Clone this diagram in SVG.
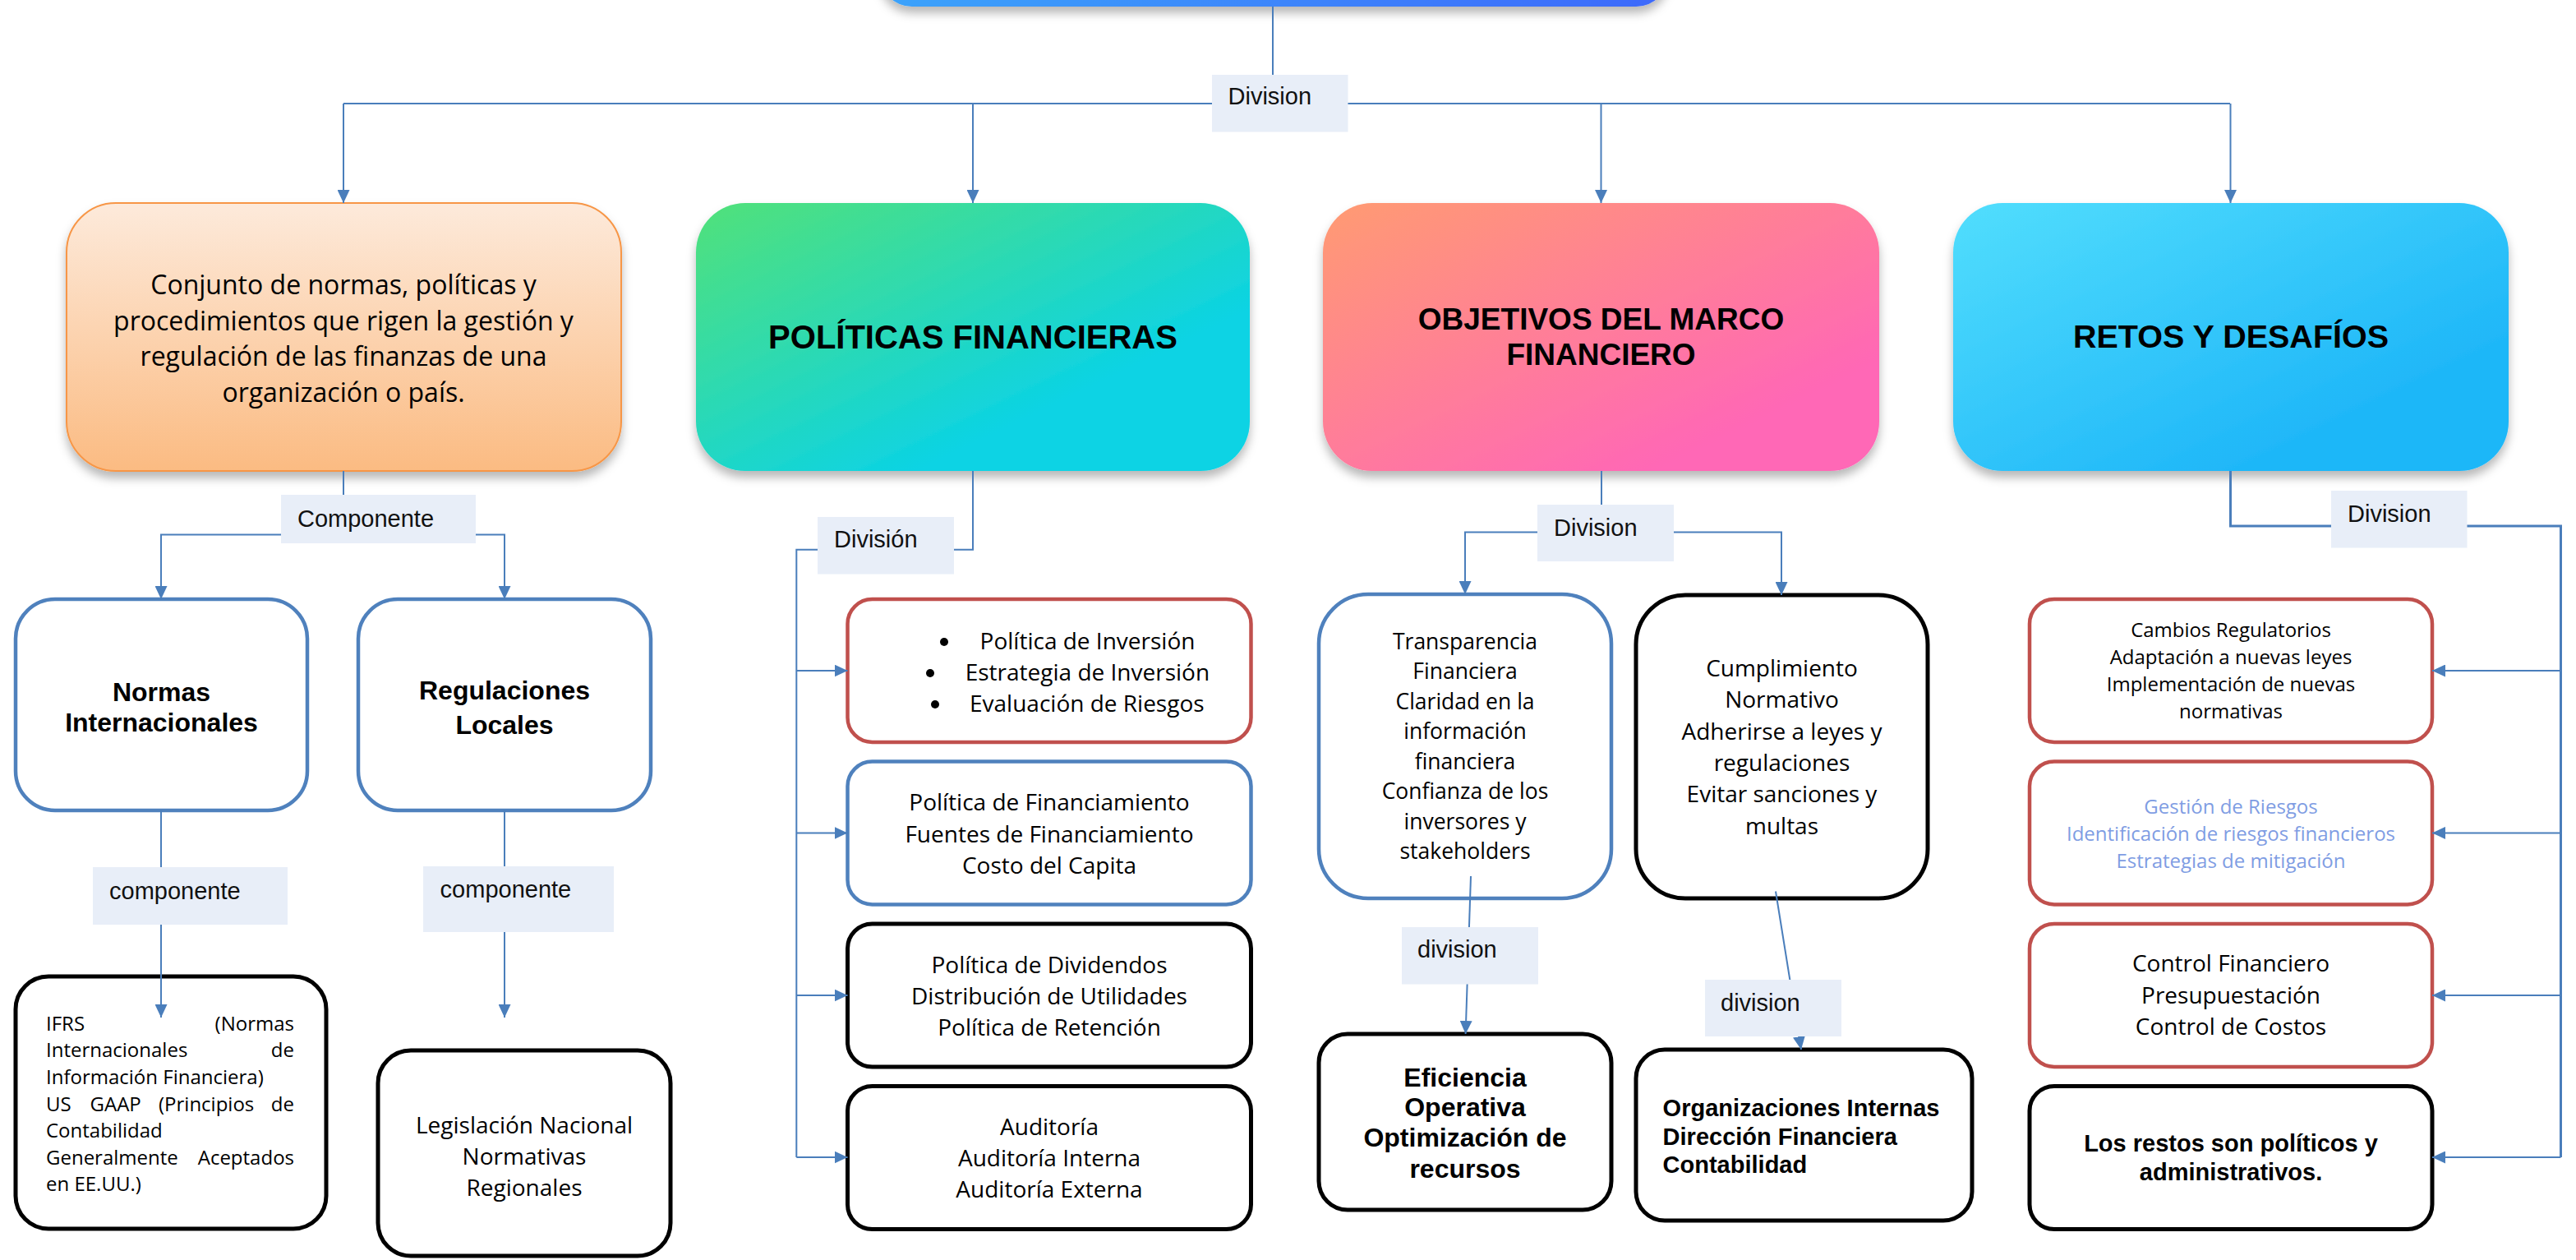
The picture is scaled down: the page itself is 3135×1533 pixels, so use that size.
<svg xmlns="http://www.w3.org/2000/svg" width="3135" height="1533" viewBox="0 0 3135 1533">
<defs>
  <linearGradient id="gRoot" x1="0" y1="0" x2="1" y2="0"><stop offset="0" stop-color="#3aa3fb"/><stop offset="1" stop-color="#3e69fb"/></linearGradient>
  <linearGradient id="gOrange" x1="0" y1="0" x2="0" y2="1"><stop offset="0" stop-color="#fdeadb"/><stop offset="1" stop-color="#fbbb82"/></linearGradient>
  <linearGradient id="gGreen" x1="0" y1="0" x2="1" y2="1"><stop offset="0" stop-color="#52e179"/><stop offset="0.7" stop-color="#0cd3e4"/></linearGradient>
  <linearGradient id="gPink" x1="0" y1="0" x2="1" y2="1"><stop offset="0" stop-color="#ff9b72"/><stop offset="0.8" stop-color="#ff67b6"/></linearGradient>
  <linearGradient id="gBlue" x1="0" y1="0" x2="1" y2="1"><stop offset="0" stop-color="#52defd"/><stop offset="0.75" stop-color="#1fb7f8"/></linearGradient>
  <filter id="shadow" x="-10%" y="-10%" width="120%" height="135%"><feDropShadow dx="0" dy="8" stdDeviation="6" flood-color="#000" flood-opacity="0.28"/></filter>
  <marker id="ah" markerWidth="16" markerHeight="15" refX="16" refY="7.5" orient="auto" markerUnits="userSpaceOnUse"><path d="M0,0 L16,7.5 L0,15 z" fill="#4a7ebb"/></marker>
  <style>
    .conn{stroke:#4a7ebb;stroke-width:2;fill:none}
    .thick{stroke-width:3}
    .lbl rect{fill:#e8eef8}
    .lbl text{font-family:"Liberation Sans",Arial,sans-serif;font-size:29px;fill:#111}
    .body{font-family:"Open Sans","Liberation Sans",sans-serif;fill:#000}
    .bold{font-family:"Liberation Sans",Arial,sans-serif;font-weight:bold;fill:#000}
    .c{text-anchor:middle}
    .bx{fill:#fff;stroke-width:4.5}
    .red{stroke:#c0504d}
    .blu{stroke:#4f81bd}
    .blk{stroke:#000;stroke-width:5}
  </style>
</defs>
<rect width="3135" height="1533" fill="#fff"/>

<g id="root"><rect x="1070" y="-120" width="961" height="128" rx="40" fill="url(#gRoot)" filter="url(#shadow)"/></g>

<g id="n-conjunto">
  <rect x="81" y="247" width="675" height="326" rx="60" fill="url(#gOrange)" stroke="#f79646" stroke-width="2" filter="url(#shadow)"/>
  <text class="body c" font-size="32" x="418"><tspan x="418" y="358">Conjunto de normas, políticas y</tspan><tspan x="418" y="401.5">procedimientos que rigen la gestión y</tspan><tspan x="418" y="445">regulación de las finanzas de una</tspan><tspan x="418" y="488.5">organización o país.</tspan></text>
</g>
<g id="n-politicas">
  <rect x="847" y="247" width="674" height="326" rx="60" fill="url(#gGreen)" filter="url(#shadow)"/>
  <text class="bold c" font-size="40" x="1184" y="424">POLÍTICAS FINANCIERAS</text>
</g>
<g id="n-objetivos">
  <rect x="1610" y="247" width="677" height="326" rx="60" fill="url(#gPink)" filter="url(#shadow)"/>
  <text class="bold c" font-size="37"><tspan x="1948.5" y="401">OBJETIVOS DEL MARCO</tspan><tspan x="1948.5" y="444">FINANCIERO</tspan></text>
</g>
<g id="n-retos">
  <rect x="2377" y="247" width="676" height="326" rx="60" fill="url(#gBlue)" filter="url(#shadow)"/>
  <text class="bold c" font-size="39.5" x="2715" y="423">RETOS Y DESAFÍOS</text>
</g>

<g id="n-normas">
  <rect class="bx blu" x="19" y="729" width="355" height="257" rx="48"/>
  <text class="bold c" font-size="32"><tspan x="196.5" y="853">Normas</tspan><tspan x="196.5" y="890">Internacionales</tspan></text>
</g>
<g id="n-regulaciones">
  <rect class="bx blu" x="436" y="729" width="356" height="257" rx="48"/>
  <text class="bold c" font-size="32"><tspan x="614" y="850.5">Regulaciones</tspan><tspan x="614" y="893">Locales</tspan></text>
</g>
<g id="n-ifrs">
  <rect class="bx blk" x="19" y="1188" width="378" height="307" rx="40"/>
  <g class="body" font-size="24">
    <text x="56" y="1253.5">IFRS</text><text x="358" y="1253.5" text-anchor="end">(Normas</text>
    <text x="56" y="1286">Internacionales</text><text x="358" y="1286" text-anchor="end">de</text>
    <text x="56" y="1318.5">Información Financiera)</text>
    <text x="56" y="1351.5">US</text><text x="109.5" y="1351.5">GAAP</text><text x="193" y="1351.5">(Principios</text><text x="358" y="1351.5" text-anchor="end">de</text>
    <text x="56" y="1384">Contabilidad</text>
    <text x="56" y="1417">Generalmente</text><text x="358" y="1417" text-anchor="end">Aceptados</text>
    <text x="56" y="1449">en EE.UU.)</text>
  </g>
</g>
<g id="n-legislacion">
  <rect class="bx blk" x="460" y="1278" width="356" height="250" rx="40"/>
  <text class="body c" font-size="28"><tspan x="638" y="1379">Legislación Nacional</tspan><tspan x="638" y="1417">Normativas</tspan><tspan x="638" y="1455">Regionales</tspan></text>
</g>

<g id="n-inversion">
  <rect class="bx red" x="1031.5" y="729" width="491" height="174" rx="30"/>
  <circle cx="1149" cy="781" r="5"/><circle cx="1132" cy="819" r="5"/><circle cx="1138" cy="857" r="5"/>
  <g class="body" font-size="28">
    <text x="1192.6" y="789.7">Política de Inversión</text>
    <text x="1174.7" y="828">Estrategia de Inversión</text>
    <text x="1180" y="865.7">Evaluación de Riesgos</text>
  </g>
</g>
<g id="n-financiamiento">
  <rect class="bx blu" x="1031.5" y="926.5" width="491" height="174" rx="30"/>
  <text class="body c" font-size="28"><tspan x="1277" y="985.7">Política de Financiamiento</tspan><tspan x="1277" y="1024.6">Fuentes de Financiamiento</tspan><tspan x="1277" y="1062.9">Costo del Capita</tspan></text>
</g>
<g id="n-dividendos">
  <rect class="bx blk" x="1031.5" y="1124" width="491" height="174" rx="30"/>
  <text class="body c" font-size="28"><tspan x="1277" y="1183.8">Política de Dividendos</tspan><tspan x="1277" y="1222">Distribución de Utilidades</tspan><tspan x="1277" y="1259.8">Política de Retención</tspan></text>
</g>
<g id="n-auditoria">
  <rect class="bx blk" x="1031.5" y="1321.5" width="491" height="174" rx="30"/>
  <text class="body c" font-size="28"><tspan x="1277" y="1381.4">Auditoría</tspan><tspan x="1277" y="1419">Auditoría Interna</tspan><tspan x="1277" y="1457.3">Auditoría Externa</tspan></text>
</g>

<g id="n-transparencia">
  <rect class="bx blu" x="1605" y="723" width="356" height="370" rx="60"/>
  <text class="body c" font-size="26.5"><tspan x="1783" y="789.7">Transparencia</tspan><tspan x="1783" y="826.2">Financiera</tspan><tspan x="1783" y="862.7">Claridad en la</tspan><tspan x="1783" y="899.2">información</tspan><tspan x="1783" y="935.7">financiera</tspan><tspan x="1783" y="972.2">Confianza de los</tspan><tspan x="1783" y="1008.7">inversores y</tspan><tspan x="1783" y="1045.2">stakeholders</tspan></text>
</g>
<g id="n-cumplimiento">
  <rect class="bx blk" x="1991" y="724" width="355" height="369" rx="60"/>
  <text class="body c" font-size="28"><tspan x="2168.5" y="823">Cumplimiento</tspan><tspan x="2168.5" y="861.3">Normativo</tspan><tspan x="2168.5" y="899.6">Adherirse a leyes y</tspan><tspan x="2168.5" y="937.9">regulaciones</tspan><tspan x="2168.5" y="976.2">Evitar sanciones y</tspan><tspan x="2168.5" y="1014.5">multas</tspan></text>
</g>
<g id="n-eficiencia">
  <rect class="bx blk" x="1605" y="1258" width="356" height="214" rx="35"/>
  <text class="bold c" font-size="32"><tspan x="1783" y="1321.5">Eficiencia</tspan><tspan x="1783" y="1358">Operativa</tspan><tspan x="1783" y="1394.5">Optimización de</tspan><tspan x="1783" y="1432.7">recursos</tspan></text>
</g>
<g id="n-organizaciones">
  <rect class="bx blk" x="1991" y="1277" width="409" height="208" rx="35"/>
  <text class="bold" font-size="29"><tspan x="2023.6" y="1358">Organizaciones Internas</tspan><tspan x="2023.6" y="1392.6">Dirección Financiera</tspan><tspan x="2023.6" y="1426.7">Contabilidad</tspan></text>
</g>

<g id="n-cambios">
  <rect class="bx red" x="2470" y="729" width="490" height="174" rx="30"/>
  <text class="body c" font-size="24"><tspan x="2715" y="774.5">Cambios Regulatorios</tspan><tspan x="2715" y="807.5">Adaptación a nuevas leyes</tspan><tspan x="2715" y="840.5">Implementación de nuevas</tspan><tspan x="2715" y="873.5">normativas</tspan></text>
</g>
<g id="n-riesgos">
  <rect class="bx red" x="2470" y="926.5" width="490" height="174" rx="30"/>
  <text class="body c" font-size="24" style="fill:#7f9de3"><tspan x="2715" y="990">Gestión de Riesgos</tspan><tspan x="2715" y="1023">Identificación de riesgos financieros</tspan><tspan x="2715" y="1056">Estrategias de mitigación</tspan></text>
</g>
<g id="n-control">
  <rect class="bx red" x="2470" y="1124" width="490" height="174" rx="30"/>
  <text class="body c" font-size="28"><tspan x="2715" y="1181.8">Control Financiero</tspan><tspan x="2715" y="1221">Presupuestación</tspan><tspan x="2715" y="1259.2">Control de Costos</tspan></text>
</g>
<g id="n-restos">
  <rect class="bx blk" x="2470" y="1321.5" width="490" height="174" rx="30"/>
  <text class="bold c" font-size="29"><tspan x="2715" y="1400.5">Los restos son políticos y</tspan><tspan x="2715" y="1435.8">administrativos.</tspan></text>
</g>

<g id="connectors">
  <path class="conn" d="M1549,8 V126"/>
  <path class="conn" d="M418,126 H2714"/>
  <path class="conn" d="M418,126 V247" marker-end="url(#ah)"/>
  <path class="conn" d="M1184,126 V247" marker-end="url(#ah)"/>
  <path class="conn" d="M1948.5,126 V247" marker-end="url(#ah)"/>
  <path class="conn" d="M2714.5,126 V247" marker-end="url(#ah)"/>

  <path class="conn" d="M418,573 V650.5"/>
  <path class="conn" d="M418,650.5 H196 V729" marker-end="url(#ah)"/>
  <path class="conn" d="M418,650.5 H614 V729" marker-end="url(#ah)"/>
  <path class="conn" d="M196,986 V1238" marker-end="url(#ah)"/>
  <path class="conn" d="M614,986 V1238" marker-end="url(#ah)"/>

  <path class="conn" d="M1184,573 V668.7 H969.3 V1408"/>
  <path class="conn" d="M969.3,816 H1031.5" marker-end="url(#ah)"/>
  <path class="conn" d="M969.3,1013.4 H1031.5" marker-end="url(#ah)"/>
  <path class="conn" d="M969.3,1211 H1031.5" marker-end="url(#ah)"/>
  <path class="conn" d="M969.3,1408 H1031.5" marker-end="url(#ah)"/>

  <path class="conn" d="M1949,573 V647.5"/>
  <path class="conn" d="M1949,647.5 H1783 V723" marker-end="url(#ah)"/>
  <path class="conn" d="M1949,647.5 H2168 V724" marker-end="url(#ah)"/>
  <path class="conn" d="M1790,1066 L1783.6,1258" marker-end="url(#ah)"/>
  <path class="conn" d="M2161,1084.5 L2192,1277" marker-end="url(#ah)"/>

  <path class="conn thick" d="M2714.5,573 V640 H3116.5 V1408"/>
  <path class="conn" d="M3116.5,816 H2960" marker-end="url(#ah)"/>
  <path class="conn" d="M3116.5,1013.4 H2960" marker-end="url(#ah)"/>
  <path class="conn" d="M3116.5,1211 H2960" marker-end="url(#ah)"/>
  <path class="conn" d="M3116.5,1408 H2960" marker-end="url(#ah)"/>

  <g class="lbl"><rect x="1475" y="91" width="165.5" height="69.5"/><text x="1494.5" y="127">Division</text></g>
  <g class="lbl"><rect x="342" y="602" width="237" height="59"/><text x="362" y="641">Componente</text></g>
  <g class="lbl"><rect x="113" y="1055" width="237" height="70"/><text x="133" y="1093.6">componente</text></g>
  <g class="lbl"><rect x="515" y="1054" width="232" height="80"/><text x="535.6" y="1092">componente</text></g>
  <g class="lbl"><rect x="995" y="629" width="166" height="69.5"/><text x="1015" y="666">División</text></g>
  <g class="lbl"><rect x="1871" y="614" width="166" height="69"/><text x="1891" y="651.7">Division</text></g>
  <g class="lbl"><rect x="1706" y="1128" width="166" height="69.5"/><text x="1725" y="1164.7">division</text></g>
  <g class="lbl"><rect x="2075" y="1192" width="166" height="69"/><text x="2094" y="1230">division</text></g>
  <g class="lbl"><rect x="2837" y="597" width="165.5" height="69.5"/><text x="2857" y="634.7">Division</text></g>
</g>
</svg>
